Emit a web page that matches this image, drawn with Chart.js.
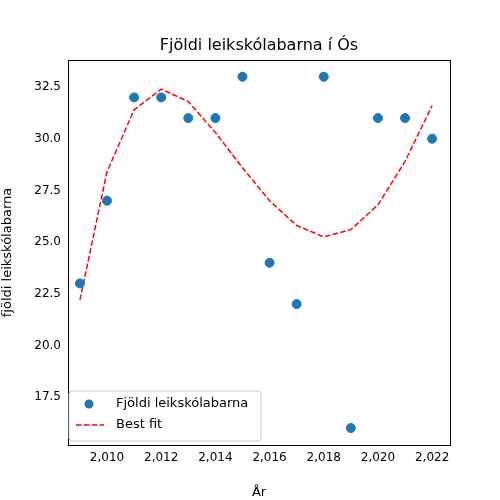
<!DOCTYPE html>
<html><head><script src="https://cdn.jsdelivr.net/npm/chart.js@4"></script>
<style>body{margin:0}canvas{display:block}</style></head>
<body><div style="width:500px;height:500px"><canvas id="c"></canvas></div>
<script>
const years=[2009,2010,2011,2012,2013,2014,2015,2016,2017,2018,2019,2020,2021,2022];
const counts=[23,27,32,32,31,31,33,24,22,33,16,31,31,30];
const fit=[22.2,28.4,31.4,32.4,31.8,30.3,28.6,27.0,25.8,25.25,25.6,26.8,28.9,31.6];
const titleText='Fjöldi leikskólabarna í Ós';
const F='"DejaVu Sans"';
const frame={id:'frame',afterDraw(c){const a=c.chartArea,x=c.ctx;x.save();x.strokeStyle='#000';x.lineWidth=1;x.strokeRect(Math.round(a.left)+.5,Math.round(a.top)+.5,Math.round(a.width),Math.round(a.height));
x.fillStyle='#000';x.font='16px '+F;x.textAlign='center';x.textBaseline='middle';x.fillText(titleText,(a.left+a.right)/2,46);x.textAlign='left';
const lx=a.left+1,ly=a.bottom-54;x.fillStyle='rgba(255,255,255,0.8)';x.strokeStyle='#ccc';x.beginPath();x.roundRect(lx,ly,192,50,3);x.fill();x.stroke();
x.fillStyle='#1f77b4';x.beginPath();x.arc(lx+20,ly+13,4.5,0,7);x.fill();
x.strokeStyle='red';x.lineWidth=1.5;x.setLineDash([5.5,2.4]);x.beginPath();x.moveTo(lx+7,ly+34);x.lineTo(lx+35,ly+34);x.stroke();x.setLineDash([]);
x.fillStyle='#000';x.font='13px '+F;x.textBaseline='middle';x.fillText('Fjöldi leikskólabarna',lx+47,ly+13);x.fillText('Best fit',lx+47,ly+34);x.restore();}};
new Chart(document.getElementById('c'),{type:'scatter',data:{datasets:[
{label:'Fjöldi leikskólabarna',data:years.map((y,i)=>({x:y,y:counts[i]})),backgroundColor:'#1f77b4',borderColor:'#1f77b4',pointRadius:4.5},
{label:'Best fit',type:'line',data:years.map((y,i)=>({x:y,y:fit[i]})),borderColor:'red',borderDash:[5.5,2.4],borderWidth:1.5,pointRadius:0,fill:false}]},
options:{animation:false,responsive:true,maintainAspectRatio:false,layout:{padding:{left:0,right:50,top:60,bottom:0}},
plugins:{legend:{display:false},tooltip:{enabled:false},title:{display:false}},
scales:{x:{type:'linear',min:2008.56,max:2022.66,afterFit(s){s.height=55},grid:{display:false,drawTicks:true,tickLength:4,tickColor:'#000'},border:{color:'#000'},
ticks:{color:'#000',font:{family:F,size:12},padding:2},afterBuildTicks(s){s.ticks=[2010,2012,2014,2016,2018,2020,2022].map(v=>({value:v}))},
title:{display:true,text:'År',color:'#000',font:{family:F,size:13},padding:{top:-6,bottom:0}}},
y:{min:15.18,max:33.81,afterFit(s){s.width=68},grid:{display:false,tickLength:4,tickColor:'#000'},border:{color:'#000'},
afterBuildTicks(s){s.ticks=[17.5,20,22.5,25,27.5,30,32.5].map(v=>({value:v}))},ticks:{color:'#000',font:{family:F,size:12},callback:v=>v.toFixed(1)},
title:{display:true,text:'fjöldi leikskólabarna',color:'#000',font:{family:F,size:13},padding:{top:0,bottom:0}}}}},plugins:[frame]});
</script></body></html>
